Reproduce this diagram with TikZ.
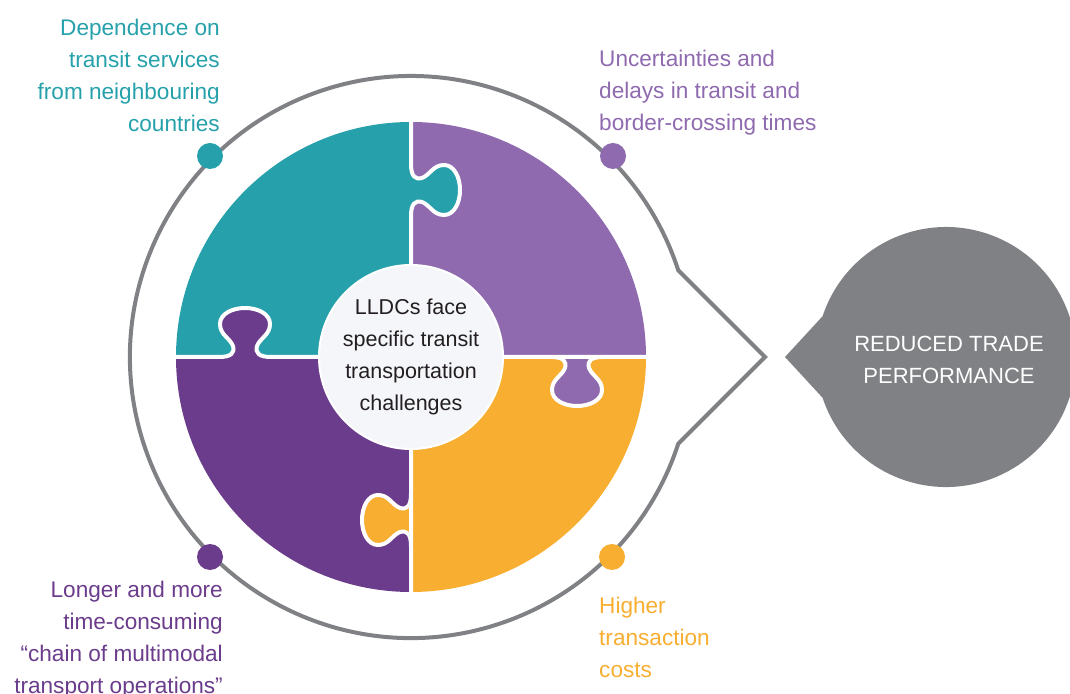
\documentclass[tikz,border=0pt]{standalone}
\usepackage{fontspec}
\setmainfont{Liberation Sans}
\definecolor{tealc}{HTML}{26A1AB}
\definecolor{lpurc}{HTML}{8F6AAF}
\definecolor{dpurc}{HTML}{6B3C8B}
\definecolor{orngc}{HTML}{F8AE30}
\definecolor{greyc}{HTML}{808184}
\definecolor{ctrc}{HTML}{F5F6FA}
\definecolor{txtc}{HTML}{231F20}
\newcommand{\knobfill}[4]{\begin{scope}[shift={(#1,#2)},rotate=#3]
\fill[#4] (-26,-5) -- (-26,0) .. controls (-14,0) and (-10,4) .. (-12,11) .. controls (-15,19) and (-25,22) .. (-25,33) .. controls (-25,43) and (-13,49) .. (0,49) .. controls (13,49) and (25,43) .. (25,33) .. controls (25,22) and (15,19) .. (12,11) .. controls (10,4) and (14,0) .. (26,0) -- (26,-5) -- cycle;
\end{scope}}
\newcommand{\seamline}[5]{\begin{scope}[shift={(#1,#2)},rotate=#3]
\draw[seam] (#4,0) -- (-26,0) .. controls (-14,0) and (-10,4) .. (-12,11) .. controls (-15,19) and (-25,22) .. (-25,33) .. controls (-25,43) and (-13,49) .. (0,49) .. controls (13,49) and (25,43) .. (25,33) .. controls (25,22) and (15,19) .. (12,11) .. controls (10,4) and (14,0) .. (26,0) -- (#5,0);
\end{scope}}
\begin{document}
\begin{tikzpicture}[x=1pt,y=1pt,
  lbl/.style={font=\fontsize{22.6}{32}\selectfont, inner sep=0pt},
  seam/.style={white, line width=4, line join=round},
  dotc/.style={circle, inner sep=0pt, minimum size=26}]
\useasboundingbox (0,0) rectangle (1070,693);
\clip (0,0) rectangle (1070,693);
% quadrants
\begin{scope}\clip (411,336) rectangle (170,575); \fill[tealc] (411,336) circle[radius=235]; \end{scope}
\begin{scope}\clip (411,336) rectangle (650,575); \fill[lpurc] (411,336) circle[radius=235]; \end{scope}
\begin{scope}\clip (411,336) rectangle (650,95); \fill[orngc] (411,336) circle[radius=235]; \end{scope}
\begin{scope}\clip (411,336) rectangle (170,95); \fill[dpurc] (411,336) circle[radius=235]; \end{scope}
% knobs
\knobfill{245}{336}{0}{dpurc}
\knobfill{577}{336}{180}{lpurc}
\knobfill{411}{503}{-90}{tealc}
\knobfill{411}{173}{90}{orngc}
% seams
\seamline{245}{336}{0}{-80}{166}
\seamline{577}{336}{180}{166}{-78}
\seamline{411}{503}{-90}{-80}{167}
\seamline{411}{173}{90}{163}{-85}
% centre
\node[circle, fill=ctrc, draw=white, line width=2, minimum size=184, inner sep=0pt, align=center, text=txtc, font=\fontsize{21.5}{32}\selectfont] (centre) at (411,336) {LLDCs face\\specific transit\\transportation\\challenges};
% ring
\draw[greyc, line width=4, line join=miter] (678.2,422.8) arc[start angle=18, end angle=342, radius=281] -- (765,336) -- cycle;
\node[dotc, fill=tealc] (d1) at (210,537) {};
\node[dotc, fill=lpurc] (d2) at (613,537) {};
\node[dotc, fill=dpurc] (d3) at (210,136) {};
\node[dotc, fill=orngc] (d4) at (612,136) {};
% result bubble
\fill[greyc] (785,336) -- (822.6,376.8) arc[start angle=161.7, end angle=-161.7, radius=130] -- cycle;
\node[lbl, font=\fontsize{22}{32}\selectfont, text=white, align=center] (result) at (949,333) {REDUCED TRADE\\PERFORMANCE};
% labels
\node[lbl, text=tealc, align=right, anchor=north east] (t1) at (220,674.4) {Dependence on\\transit services\\from neighbouring\\countries};
\node[lbl, text=lpurc, align=left, anchor=north west] (t2) at (599,643.4) {Uncertainties and\\delays in transit and\\border-crossing times};
\node[lbl, text=dpurc, align=right, anchor=north east] (t3) at (223,112.4) {Longer and more\\time-consuming\\“chain of multimodal\\transport operations”};
\node[lbl, text=orngc, align=left, anchor=north west] (t4) at (599,96.4) {Higher\\transaction\\costs};
\end{tikzpicture}
\end{document}
